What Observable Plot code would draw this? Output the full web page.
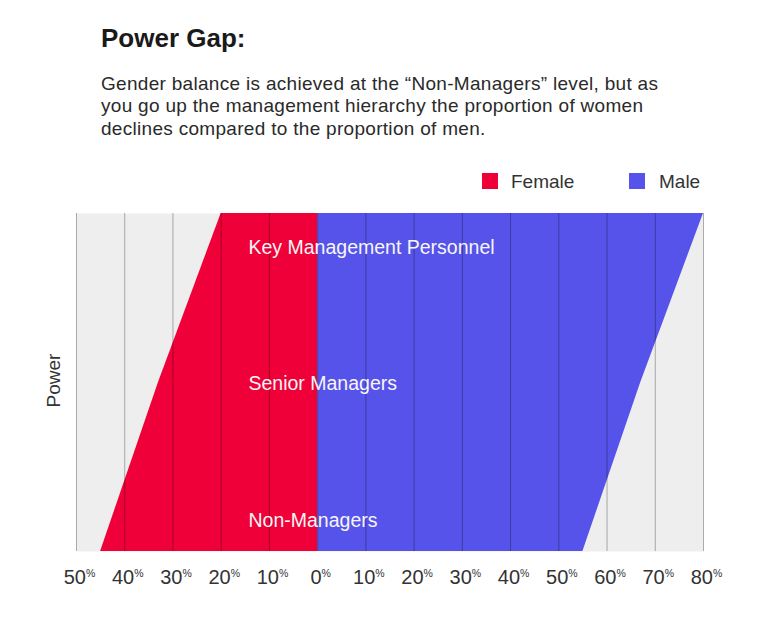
<!DOCTYPE html>
<html>
<head>
<meta charset="utf-8">
<script src="https://cdn.jsdelivr.net/npm/d3@7"></script>
<script src="https://cdn.jsdelivr.net/npm/@observablehq/plot@0.6"></script>
<style>
  body { margin: 0; background: #fff; font-family: "Liberation Sans", Arial, Helvetica, sans-serif; color: #222; }
  #page { position: relative; width: 768px; height: 638px; overflow: hidden; }
  #title { position: absolute; left: 101px; top: 25px; font-size: 26px; line-height: 26px; font-weight: bold; color: #1a1a1a; margin: 0; }
  #subtitle { position: absolute; left: 101px; top: 72.5px; width: 660px; font-size: 19px; line-height: 22.5px; letter-spacing: 0.3px; color: #2a2a2a; margin: 0; white-space: nowrap; }
  #legend { position: absolute; top: 172px; left: 0; font-size: 19px; line-height: 19px; color: #333; }
  .sw { position: absolute; width: 16px; height: 16px; top: 0.5px; }
  .lt { position: absolute; top: 0; white-space: nowrap; }
  #chart { position: absolute; left: 0; top: 200px; }
</style>
</head>
<body>
<div id="page">
  <div id="title">Power Gap:</div>
  <div id="subtitle">Gender balance is achieved at the “Non-Managers” level, but as<br>you go up the management hierarchy the proportion of women<br>declines compared to the proportion of men.</div>
  <div id="legend"></div>
  <div id="chart"></div>
</div>
<script>
const levels = ["Non-Managers", "Senior Managers", "Key Management Personnel"];
const female = [45, 33, 20];
const male = [55, 67, 80];
const tickValues = [-50, -40, -30, -20, -10, 0, 10, 20, 30, 40, 50, 60, 70, 80];
const seriesNames = ["Female", "Male"];
const seriesColors = ["#ef0039", "#5653ea"];

const rows = levels.map((level, i) => ({level, idx: i, female: female[i], male: male[i]}));

// legend
const legend = document.getElementById("legend");
const legendPos = [[482, 511], [629, 659]];
seriesNames.forEach((name, i) => {
  const sw = document.createElement("div");
  sw.className = "sw"; sw.style.left = legendPos[i][0] + "px"; sw.style.background = seriesColors[i];
  const t = document.createElement("div");
  t.className = "lt"; t.style.left = legendPos[i][1] + "px"; t.textContent = name;
  legend.appendChild(sw); legend.appendChild(t);
});

const labelFont = "19.5px";
const labelFill = "#f6f6f6";
const plot = Plot.plot({
  width: 768,
  height: 400,
  marginLeft: 76,
  marginRight: 65,
  marginTop: 13,
  marginBottom: 49,
  style: {fontFamily: '"Liberation Sans", Arial, Helvetica, sans-serif', background: "transparent"},
  x: {domain: [-50, 80]},
  y: {domain: [0, 2], axis: null},
  marks: [
    Plot.frame({fill: "#eeeeee", stroke: null}),
    Plot.areaX(rows, {y: "idx", x1: d => -d.female, x2: 0, fill: seriesColors[0], curve: "linear"}),
    Plot.areaX(rows, {y: "idx", x1: 0, x2: "male", fill: seriesColors[1], curve: "linear"}),
    Plot.ruleX(tickValues, {stroke: "#000", strokeOpacity: 0.3, strokeWidth: 1}),
    Plot.text(rows, {filter: d => d.idx === 0, y: "idx", text: "level", frameAnchor: "left", dx: 172, dy: -31, textAnchor: "start", fill: labelFill, fontSize: labelFont}),
    Plot.text(rows, {filter: d => d.idx === 1, y: "idx", text: "level", frameAnchor: "left", dx: 172, dy: 1, textAnchor: "start", fill: labelFill, fontSize: labelFont}),
    Plot.text(rows, {filter: d => d.idx === 2, y: "idx", text: "level", frameAnchor: "left", dx: 172, dy: 34, textAnchor: "start", fill: labelFill, fontSize: labelFont}),
    Plot.text(["Power"], {frameAnchor: "left", textAnchor: "middle", dx: -23, dy: -2, rotate: -90, fill: "#333", fontSize: "19px"}),
    Plot.axisX({ticks: tickValues, tickFormat: d => String(Math.abs(d)), tickSize: 0, tickPadding: 18, fontSize: 20, dx: 3, fill: "#333", label: null})
  ]
});
document.getElementById("chart").appendChild(plot);

// superscript percent signs on tick labels
d3.select(plot).selectAll('g[aria-label="x-axis tick label"] text').each(function() {
  d3.select(this).append("tspan").attr("font-size", 10.5).attr("dy", -7).text("%");
});
</script>
</body>
</html>
